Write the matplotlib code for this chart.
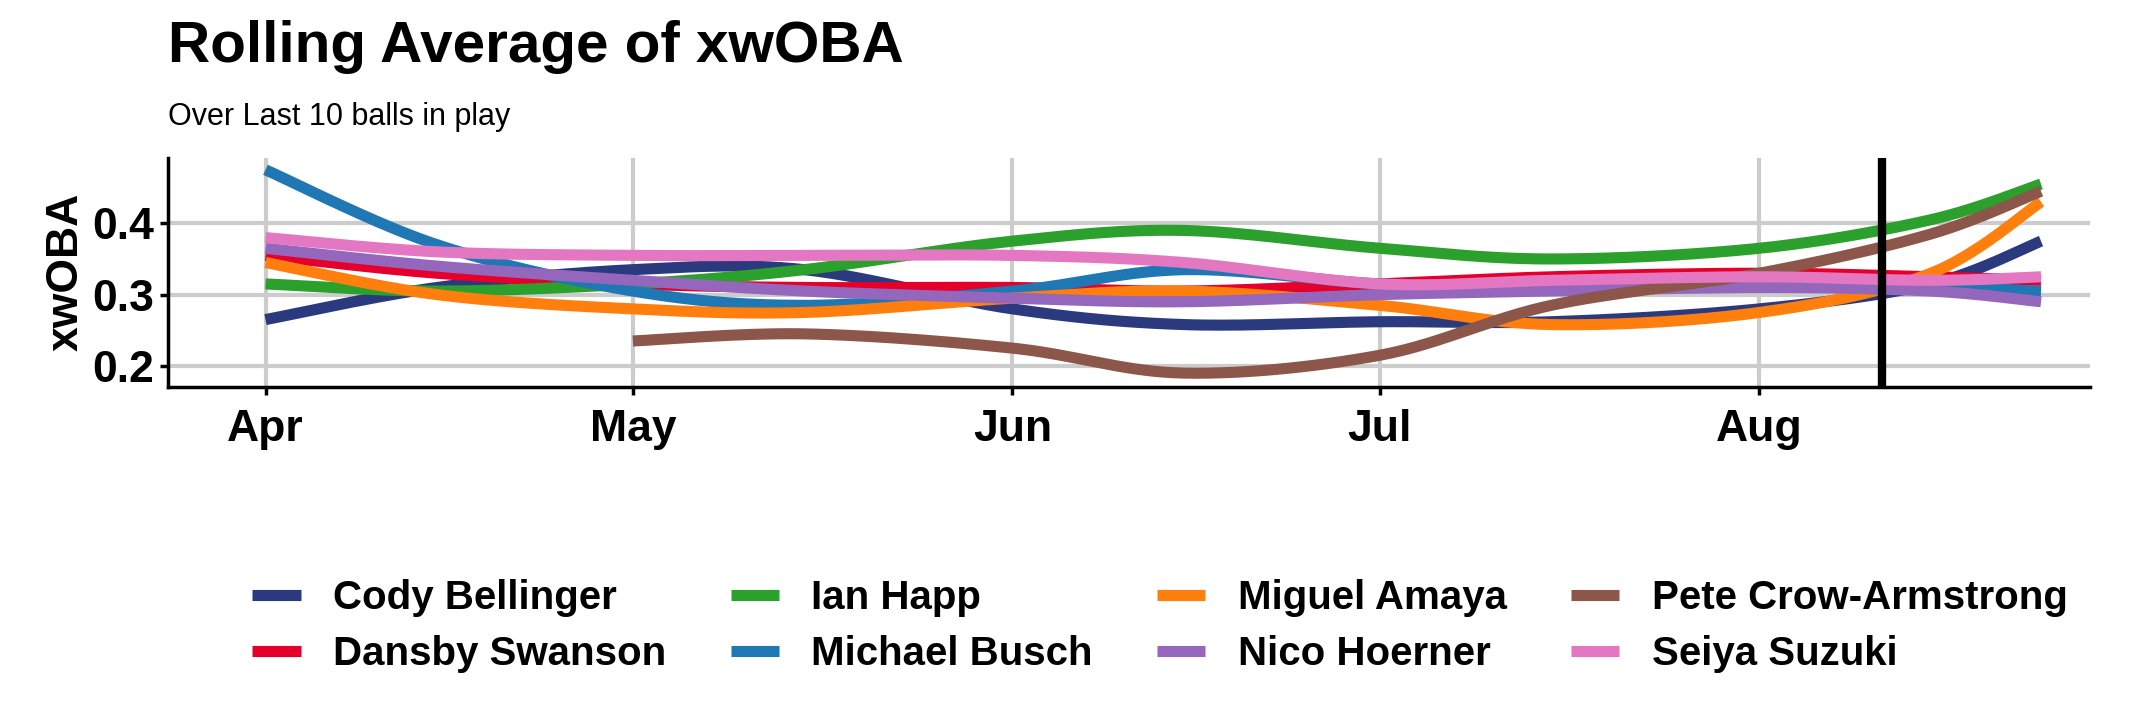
import matplotlib
matplotlib.use("Agg")
import matplotlib.pyplot as plt
import matplotlib.dates as mdates
import numpy as np
import datetime as dt

plt.rcParams['font.family'] = ['Liberation Sans', 'DejaVu Sans']

dates = ["2024-04-01","2024-04-15","2024-05-01","2024-05-15","2024-06-01","2024-06-15",
         "2024-07-01","2024-07-15","2024-08-01","2024-08-15","2024-08-24"]
players = ["Cody Bellinger","Dansby Swanson","Ian Happ","Michael Busch",
           "Miguel Amaya","Nico Hoerner","Pete Crow-Armstrong","Seiya Suzuki"]
colors = ["#2b3a7e","#e4002b","#2ca02c","#1f77b4","#ff7f0e","#9467bd","#8c564b","#e377c2"]
cody   = [0.265,0.31,0.335,0.335,0.28,0.258,0.262,0.262,0.28,0.315,0.375]
dansby = [0.355,0.33,0.315,0.31,0.31,0.305,0.315,0.325,0.33,0.325,0.32]
ian    = [0.315,0.305,0.315,0.335,0.375,0.39,0.365,0.35,0.365,0.405,0.455]
busch  = [0.475,0.37,0.305,0.285,0.305,0.335,0.315,0.31,0.31,0.31,0.305]
amaya  = [0.345,0.30,0.28,0.275,0.295,0.305,0.285,0.258,0.275,0.33,0.43]
nico   = [0.365,0.34,0.32,0.305,0.295,0.29,0.30,0.305,0.31,0.305,0.29]
pca    = [None,None,0.235,0.245,0.225,0.19,0.215,0.285,0.33,0.385,0.445]
seiya  = [0.38,0.36,0.355,0.355,0.355,0.345,0.315,0.32,0.325,0.32,0.325]
series = [cody,dansby,ian,busch,amaya,nico,pca,seiya]
vline_date = "2024-08-11"

def smooth(x, y, n=30):
    xs, ys = [], []
    pts = list(zip(x, y))
    for i in range(len(pts)-1):
        p0 = pts[max(i-1,0)]; p1 = pts[i]; p2 = pts[i+1]; p3 = pts[min(i+2,len(pts)-1)]
        for t in np.linspace(0,1,n,endpoint=False):
            t2, t3 = t*t, t*t*t
            f = lambda a,b,c,d: 0.5*(2*b+(-a+c)*t+(2*a-5*b+4*c-d)*t2+(-a+3*b-3*c+d)*t3)
            xs.append(f(p0[0],p1[0],p2[0],p3[0])); ys.append(f(p0[1],p1[1],p2[1],p3[1]))
    xs.append(pts[-1][0]); ys.append(pts[-1][1])
    return np.array(xs), np.array(ys)

dnum = mdates.date2num([dt.datetime.fromisoformat(d) for d in dates])

fig = plt.figure(figsize=(21.48,7.2), dpi=100)
ax = fig.add_axes([0.078,0.463,0.895,0.318])
for name, vals, c in zip(players, series, colors):
    x = [d for d,v in zip(dnum,vals) if v is not None]
    y = [v for v in vals if v is not None]
    sx, sy = smooth(x, y)
    ax.plot(sx, sy, color=c, lw=8, label=name, solid_capstyle='butt')
ax.axvline(mdates.date2num(dt.datetime.fromisoformat(vline_date)), color='black', lw=6)

ax.set_xlim(mdates.date2num(dt.datetime(2024,3,24)), mdates.date2num(dt.datetime(2024,8,28)))
ax.set_ylim(0.171, 0.492)
ax.set_yticks([0.2,0.3,0.4])
ax.set_yticklabels(["0.2","0.3","0.4"])
ax.xaxis.set_major_locator(mdates.MonthLocator(bymonth=[4,5,6,7,8]))
ax.xaxis.set_major_formatter(mdates.DateFormatter('%b'))
ax.grid(True, color='#cccccc', lw=3)
ax.set_axisbelow(True)
for s in ['top','right']:
    ax.spines[s].set_visible(False)
for s in ['left','bottom']:
    ax.spines[s].set_linewidth(2.5)
ax.tick_params(labelsize=32, width=2.5, length=6)
for lab in ax.get_xticklabels()+ax.get_yticklabels():
    lab.set_fontweight('bold')
ax.tick_params(axis='x', pad=10)
ax.tick_params(axis='y', pad=4)
ax.set_ylabel("xwOBA", fontsize=32, fontweight='bold', labelpad=4)

fig.text(0.078,0.935,"Rolling Average of xwOBA", fontsize=42, fontweight='bold', va='center')
fig.text(0.078,0.838,"Over Last 10 balls in play", fontsize=22, va='center')

fig.legend(loc='center', bbox_to_anchor=(0.54,0.13), ncol=4, frameon=False,
           prop={'size':29,'weight':'bold'}, handlelength=1.2, columnspacing=1.6,
           handletextpad=0.8, labelspacing=0.45)
fig.savefig("out.png", dpi=100)
